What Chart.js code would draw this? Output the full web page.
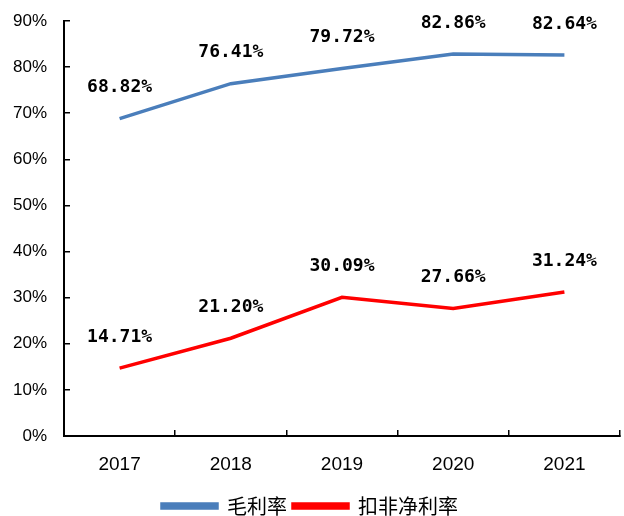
<!DOCTYPE html>
<html>
<head>
<meta charset="utf-8">
<script src="https://cdn.jsdelivr.net/npm/chart.js@4"></script>
<style>
  html, body { margin: 0; padding: 0; background: #fff; }
  #wrap { width: 624px; height: 516px; }
</style>
</head>
<body>
<div id="wrap"><canvas id="chart"></canvas></div>
<script>
const years = ["2017", "2018", "2019", "2020", "2021"];
const grossMargin = [68.82, 76.41, 79.72, 82.86, 82.64];
const netMargin = [14.71, 21.20, 30.09, 27.66, 31.24];
const seriesNames = ["毛利率", "扣非净利率"];

// labels drawn above each point
const pointLabels = {
  id: "pointLabels",
  afterDatasetsDraw(chart) {
    const ctx = chart.ctx;
    ctx.save();
    ctx.font = "bold 18px 'DejaVu Sans Mono', monospace";
    ctx.fillStyle = "#000";
    ctx.textAlign = "center";
    ctx.textBaseline = "middle";
    chart.data.datasets.forEach((ds, i) => {
      chart.getDatasetMeta(i).data.forEach((pt, j) => {
        ctx.fillText(ds.data[j].toFixed(2) + "%", pt.x, pt.y - 31);
      });
    });
    ctx.restore();
  },
};

new Chart(document.querySelector("#chart"), {
  type: "line",
  data: {
    labels: years,
    datasets: [
      {
        label: seriesNames[0],
        data: grossMargin,
        borderColor: "#4a7ebb",
        backgroundColor: "#4a7ebb",
        borderWidth: 3.5,
        pointRadius: 0,
        tension: 0,
      },
      {
        label: seriesNames[1],
        data: netMargin,
        borderColor: "#ff0000",
        backgroundColor: "#ff0000",
        borderWidth: 3.5,
        pointRadius: 0,
        tension: 0,
      },
    ],
  },
  options: {
    responsive: true,
    maintainAspectRatio: false,
    animation: false,
    layout: {
      padding: { top: 21, right: 4, left: 0, bottom: -10 },
    },
    plugins: {
      legend: {
        position: "bottom",
        labels: {
          boxWidth: 55,
          boxHeight: 4,
          padding: 6,
          color: "#000",
          font: { family: "'Noto Sans CJK SC'", size: 20 },
        },
      },
      tooltip: { enabled: false },
    },
    scales: {
      x: {
        offset: true,
        grid: {
          offset: true,
          drawOnChartArea: false,
          tickLength: -6,
          color: "#000",
          lineWidth: 1.5,
        },
        border: { color: "#000", width: 2 },
        ticks: {
          color: "#000",
          padding: 23,
          font: { family: "'Liberation Sans', Arial", size: 19 },
        },
        afterFit(scale) {
          scale.height = 54;
        },
      },
      y: {
        min: 0,
        max: 90,
        grid: {
          drawOnChartArea: false,
          tickLength: -6,
          color: "#000",
          lineWidth: 1.5,
        },
        border: { color: "#000", width: 2 },
        ticks: {
          stepSize: 10,
          color: "#000",
          padding: 23,
          font: { family: "'Liberation Sans', Arial", size: 17 },
          callback: function (value) {
            return value + "%";
          },
        },
        afterFit(scale) {
          scale.width = 64;
          scale.paddingTop = 0;
          scale.paddingBottom = 0;
        },
      },
    },
  },
  plugins: [pointLabels],
});
</script>
</body>
</html>
